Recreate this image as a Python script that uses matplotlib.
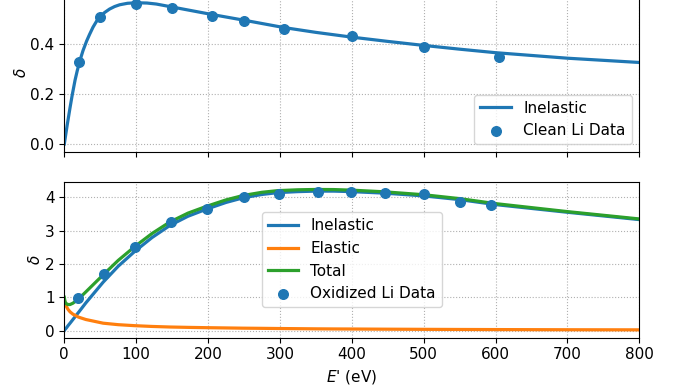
import matplotlib
matplotlib.use("Agg")
import matplotlib.pyplot as plt

# ---- top panel: clean Li ----
clean_curve_E = [0, 4, 8, 11, 15, 18, 22, 26, 31, 35, 40, 45, 50, 56, 63, 70, 77, 88, 100, 115, 128, 154, 180, 206,
                 253, 306, 350, 400, 450, 500, 550, 600, 700, 800]
clean_curve_d = [0.0, 0.075, 0.145, 0.195, 0.255, 0.292, 0.335, 0.372, 0.41, 0.436, 0.466, 0.49, 0.508, 0.524,
                 0.538, 0.548, 0.555, 0.561, 0.563, 0.562, 0.558, 0.544, 0.53, 0.516, 0.492, 0.464, 0.445, 0.426,
                 0.409, 0.393, 0.378, 0.364, 0.342, 0.325]
clean_data_E = [20, 50, 100, 150, 205, 250, 305, 400, 500, 605]
clean_data_d = [0.328, 0.508, 0.558, 0.541, 0.510, 0.490, 0.457, 0.432, 0.388, 0.346]

# ---- bottom panel: oxidized Li ----
ox_E = [0, 1, 3, 5, 8, 12, 20, 30, 54, 75, 98, 122, 147, 172, 198, 225, 249, 275, 297, 325, 350, 375, 399, 445,
        501, 550, 600, 700, 800]
ox_inel = [0.0, 0.03, 0.08, 0.14, 0.22, 0.33, 0.55, 0.83, 1.45, 1.93, 2.375, 2.79, 3.155, 3.43, 3.645, 3.845, 3.985,
           4.085, 4.14, 4.17, 4.185, 4.185, 4.17, 4.125, 4.04, 3.93, 3.78, 3.55, 3.33]
ox_elas = [0.95, 0.82, 0.72, 0.64, 0.56, 0.49, 0.40, 0.33, 0.22, 0.175, 0.145, 0.122, 0.105, 0.094, 0.085, 0.077,
           0.07, 0.065, 0.06, 0.055, 0.05, 0.047, 0.045, 0.04, 0.035, 0.031, 0.028, 0.023, 0.02]
ox_total = [1.0, 0.86, 0.80, 0.78, 0.78, 0.82, 0.95, 1.16, 1.67, 2.105, 2.52, 2.912, 3.26, 3.524, 3.73, 3.922, 4.055,
            4.15, 4.20, 4.225, 4.235, 4.232, 4.215, 4.165, 4.075, 3.96, 3.81, 3.57, 3.35]
ox_data_E = [19, 55, 98, 148, 198, 250, 299, 353, 399, 446, 501, 550, 594]
ox_data_d = [0.97, 1.69, 2.52, 3.25, 3.65, 4.0, 4.10, 4.17, 4.17, 4.14, 4.09, 3.87, 3.77]

plt.rcParams["font.size"] = 11

W, H = 686, 387
fig = plt.figure(figsize=(W / 100, H / 100), dpi=100)

def px_axes(left, right, top, bottom):
    return fig.add_axes([left / W, (H - bottom) / H, (right - left) / W, (bottom - top) / H])

ax1 = px_axes(64.3, 639.3, -6.5, 152)
ax2 = px_axes(64.3, 639.3, 182.3, 337.5)

LW = 2.3
S = 48

ax1.plot(clean_curve_E, clean_curve_d, color="C0", lw=LW, label="Inelastic")
ax1.scatter(clean_data_E, clean_data_d, color="C0", s=S, label="Clean Li Data", zorder=3)
ax1.set_xlim(0, 800)
ax1.set_ylim(-0.032, 0.6)
ax1.set_yticks([0.0, 0.2, 0.4])
ax1.set_xticks(range(0, 801, 100))
ax1.tick_params(labelbottom=False)
ax1.set_ylabel(r"$\delta$", labelpad=1)
ax1.grid(True, linestyle=":", color="#b0b0b0")
ax1.legend(loc="lower right")

ax2.plot(ox_E, ox_inel, color="C0", lw=LW, label="Inelastic")
ax2.plot(ox_E, ox_elas, color="C1", lw=LW, label="Elastic")
ax2.plot(ox_E, ox_total, color="C2", lw=LW, label="Total")
ax2.scatter(ox_data_E, ox_data_d, color="C0", s=S, label="Oxidized Li Data", zorder=3)
ax2.set_xlim(0, 800)
ax2.set_ylim(-0.21, 4.45)
ax2.set_xticks(range(0, 801, 100))
ax2.set_yticks([0, 1, 2, 3, 4])
ax2.set_ylabel(r"$\delta$", labelpad=1)
ax2.set_xlabel(r"$E$' (eV)")
ax2.grid(True, linestyle=":", color="#b0b0b0")
ax2.legend(loc="center")

fig.savefig("out.png", dpi=100)
